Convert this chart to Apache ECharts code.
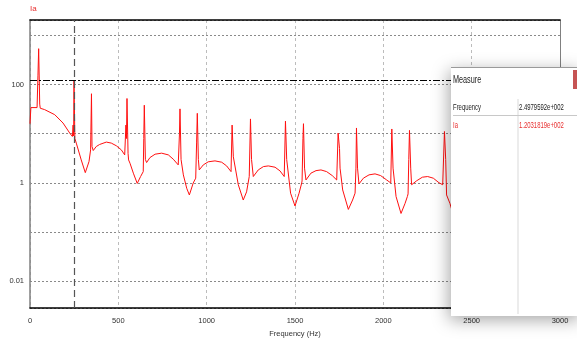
<!DOCTYPE html>
<html><head><meta charset="utf-8">
<script src="https://cdn.jsdelivr.net/npm/echarts@6/dist/echarts.min.js"></script>
<style>html,body{margin:0;padding:0;background:#fff}#c{width:577px;height:351px}</style>
</head><body><div id="c"></div>
<script>
// ---- data ----
const freqHz = [0,5,40,42,45,49,52,55,58,83,140,187,225,240,244,247,249,251,254,262,290,313,334,343,345,348,351,358,375,394,432,460,489,517,536,540,543,546,549,552,555,558,566,585,607,626,641,644,647,650,653,660,679,708,745,783,811,839,843,846,849,852,855,868,887,902,924,938,940,943,947,950,953,958,981,1009,1047,1085,1113,1138,1140,1144,1148,1151,1179,1207,1226,1241,1244,1248,1251,1254,1264,1292,1321,1349,1387,1415,1439,1443,1446,1450,1453,1475,1500,1523,1538,1540,1545,1548,1551,1554,1562,1590,1619,1647,1679,1711,1736,1740,1744,1748,1752,1755,1770,1802,1826,1840,1842,1845,1848,1851,1854,1862,1887,1919,1953,1985,2019,2042,2044,2048,2052,2055,2072,2100,2123,2136,2140,2144,2148,2152,2155,2160,2189,2221,2251,2283,2315,2336,2340,2346,2350,2353,2358,2377,2400];
const amplitudeIa = [16,34,34,36,150,535,535,40,33,30.9,24.4,16.5,10.3,8.8,15,9,120.3,120.3,8,6.46,2.94,1.62,2.72,4.7,5,65,5.5,4.56,5.5,6.05,6.77,6.46,5.69,4.7,3.72,3.7,15,8,52,50,4,2.94,2.52,1.58,0.98,1.35,1.7,8,38,38,3,2.6,3.28,3.84,4.03,3.72,3.04,2.33,2.3,10,32,30,3,1.46,0.78,0.57,1.0,1.25,1.3,6.5,26,26,3,1.84,2.33,2.69,2.81,2.64,2.22,1.7,1.7,15,15,3.4,0.92,0.45,0.66,1.35,1.4,20,20,3,1.35,1.84,2.15,2.22,2.09,1.76,1.35,1.4,18,18,3,0.62,0.34,0.62,1.0,1.1,8,16,16,2,1.15,1.58,1.78,1.84,1.70,1.41,1.15,1.2,10.3,10.3,5,2,0.72,0.29,0.45,0.62,0.65,2,13.1,13.1,2,0.955,1.25,1.46,1.53,1.41,1.15,1.0,1.0,12.5,12.5,2,0.53,0.24,0.385,0.53,0.6,3,11.7,11.7,2,0.92,1.11,1.31,1.35,1.25,1.01,0.92,1.0,11.1,11.1,3,0.57,0.385,0.2];
const yLabelExponents = [-2, 0, 2];
const yLabelTexts = ['0.01', '1', '100'];
const cursorFreq = 249.79592;
const cursorAmp = 120.31819;
const measureTitle = 'Measure';
const measureNames = ['Frequency', 'Ia'];
const measureValues = ['2.4979592e+002', '1.2031819e+002'];

const FONT = '"Liberation Sans Narrow", "Arial Narrow", "Liberation Sans", Arial, sans-serif';
const chart = echarts.init(document.getElementById('c'), null, {renderer: 'canvas'});

const seriesData = freqHz.map((f, i) => [f, amplitudeIa[i]]);

const panelText = (txt, x, y, color, size) => ({
  type: 'text', x: x, y: y, scaleX: 0.66, z: 102,
  style: {text: txt, x: 0, y: 0, fill: color, fontSize: size, fontFamily: '"Liberation Sans", Arial, sans-serif', verticalAlign: 'middle', align: 'left'}
});

chart.setOption({
  animation: false,
  backgroundColor: '#fff',
  grid: {left: 30, right: 17, top: 20, bottom: 43, show: false},
  xAxis: [{
    type: 'value', min: 0, max: 3000, interval: 500,
    axisLine: {show: true, onZero: false, lineStyle: {color: '#000', width: 1.5}},
    axisTick: {show: false},
    axisLabel: {fontSize: 7.5, color: '#333', margin: 9, fontFamily: FONT, formatter: v => String(v)},
    splitLine: {show: true, lineStyle: {color: '#bcbcbc', type: [3, 3], width: 1}},
    name: 'Frequency (Hz)', nameLocation: 'middle', nameGap: 22,
    nameTextStyle: {fontSize: 7.5, color: '#333', fontFamily: FONT}
  }, {
    type: 'value', min: 0, max: 3000, position: 'top',
    axisLine: {show: true, onZero: false, lineStyle: {color: '#000', width: 1.5}},
    axisTick: {show: false}, axisLabel: {show: false}, splitLine: {show: false}
  }],
  yAxis: [{
    type: 'log', logBase: 10, min: 0.00288, max: 2047,
    axisLine: {show: true, onZero: false, lineStyle: {color: '#808080', width: 1.5}},
    axisTick: {show: false},
    axisLabel: {
      fontSize: 7.5, color: '#333', margin: 6, fontFamily: FONT,
      showMinLabel: false, showMaxLabel: false,
      formatter: v => {
        const l = Math.log10(v), e = Math.round(l);
        if (Math.abs(l - e) > 1e-6) return '';
        const k = yLabelExponents.indexOf(e);
        return k < 0 ? '' : yLabelTexts[k];
      }
    },
    splitLine: {show: true, lineStyle: {color: '#8a8a8a', type: [2, 2], width: 1}},
    name: 'Ia', nameLocation: 'end', nameGap: 7,
    nameTextStyle: {color: '#e83030', fontSize: 8, align: 'left', fontFamily: FONT}
  }, {
    type: 'value', min: 0, max: 1, position: 'right',
    axisLine: {show: true, onZero: false, lineStyle: {color: '#808080', width: 1}},
    axisTick: {show: false}, axisLabel: {show: false}, splitLine: {show: false}
  }],
  series: [{
    type: 'line', xAxisIndex: 0, yAxisIndex: 0,
    data: seriesData, showSymbol: false, symbol: 'none',
    lineStyle: {color: '#ff1010', width: 1},
    markLine: {
      silent: true, symbol: 'none', label: {show: false},
      data: [
        {xAxis: cursorFreq, lineStyle: {color: '#555', type: [7, 4], width: 1.2}},
        {yAxis: cursorAmp, lineStyle: {color: '#000', type: [7, 2, 2, 2], width: 1.2}}
      ]
    }
  }],
  graphic: [
    {type: 'rect', z: 100, shape: {x: 451, y: 67, width: 130, height: 249},
     style: {fill: '#fff', shadowBlur: 16, shadowColor: 'rgba(0,0,0,0.35)', shadowOffsetX: -2, shadowOffsetY: 4}},
    {type: 'rect', z: 101, shape: {x: 451, y: 67, width: 126, height: 1}, style: {fill: '#9a9a9a'}},
    {type: 'rect', z: 101, shape: {x: 573, y: 70, width: 4, height: 19}, style: {fill: '#c65454'}},
    {type: 'rect', z: 101, shape: {x: 517, y: 99, width: 2, height: 215}, style: {fill: '#ececec'}},
    {type: 'rect', z: 101, shape: {x: 453, y: 115, width: 124, height: 1}, style: {fill: '#c8c8c8'}},
    panelText(measureTitle, 453, 80, '#222', 11),
    panelText(measureNames[0], 453, 108, '#222', 9),
    panelText(measureValues[0], 519, 108, '#222', 9),
    panelText(measureNames[1], 453, 126, '#e83030', 9),
    panelText(measureValues[1], 519, 126, '#e83030', 9)
  ]
});
</script></body></html>
